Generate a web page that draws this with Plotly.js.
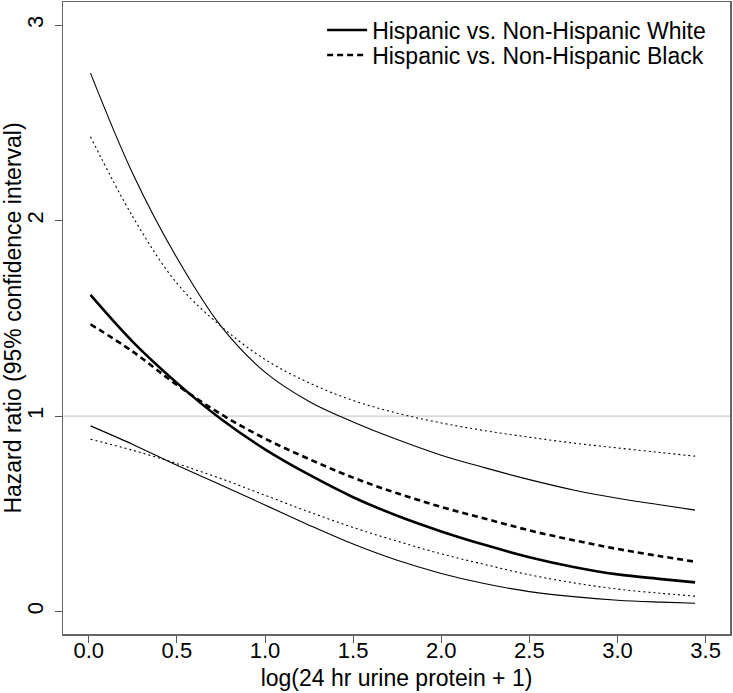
<!DOCTYPE html>
<html>
<head>
<meta charset="utf-8">
<script src="https://cdn.plot.ly/plotly-3.0.1.min.js"></script>
<style>
  html, body { margin: 0; padding: 0; background: #ffffff; }
  #chart { width: 733px; height: 693px; }
</style>
</head>
<body>
<div id="chart"></div>
<script>
// x: log(24 hr urine protein + 1)
const xVals = [0.01, 0.25, 0.5, 0.75, 1.0, 1.25, 1.5, 1.75, 2.0, 2.25, 2.5, 2.75, 3.0, 3.25, 3.44];

// Hispanic vs. Non-Hispanic White
const whiteHR    = [1.62, 1.38, 1.17, 0.985, 0.83, 0.70, 0.585, 0.49, 0.41, 0.34, 0.278, 0.228, 0.19, 0.166, 0.149];
const whiteLower = [0.95, 0.855, 0.748, 0.648, 0.545, 0.442, 0.345, 0.262, 0.195, 0.142, 0.102, 0.076, 0.058, 0.048, 0.042];
const whiteUpper = [2.755, 2.24, 1.81, 1.46, 1.225, 1.075, 0.97, 0.88, 0.80, 0.735, 0.675, 0.622, 0.58, 0.545, 0.519];

// Hispanic vs. Non-Hispanic Black
const blackHR    = [1.47, 1.33, 1.16, 1.01, 0.885, 0.78, 0.685, 0.605, 0.535, 0.475, 0.415, 0.365, 0.32, 0.282, 0.255];
const blackLower = [0.882, 0.825, 0.757, 0.68, 0.595, 0.51, 0.43, 0.36, 0.295, 0.24, 0.188, 0.147, 0.115, 0.093, 0.079];
const blackUpper = [2.43, 2.02, 1.68, 1.46, 1.29, 1.17, 1.08, 1.015, 0.965, 0.925, 0.892, 0.862, 0.837, 0.813, 0.795];

const seriesNames = ["Hispanic vs. Non-Hispanic White", "Hispanic vs. Non-Hispanic Black"];
const xTicks = [0, 0.5, 1, 1.5, 2, 2.5, 3, 3.5];
const xTickText = ["0.0", "0.5", "1.0", "1.5", "2.0", "2.5", "3.0", "3.5"];
const yTicks = [0, 1, 2, 3];
const yTickText = ["0", "1", "2", "3"];
const refLine = 1;

const FONT = "Liberation Sans, Arial, Helvetica, sans-serif";

function tr(y, name, width, dash, show, legendId) {
  const t = {
    x: xVals, y: y, type: "scatter", mode: "lines", name: name,
    showlegend: show, hoverinfo: "skip",
    line: { color: "#000000", width: width, dash: dash, shape: "spline", smoothing: 1 }
  };
  if (legendId) t.legend = legendId;
  return t;
}

const data = [
  tr(whiteUpper, "white upper", 1.1, "solid", false),
  tr(whiteLower, "white lower", 1.1, "solid", false),
  tr(blackUpper, "black upper", 1.1, "2px,3px", false),
  tr(blackLower, "black lower", 1.1, "2px,3px", false),
  tr(whiteHR, seriesNames[0], 2.6, "solid", true, "legend"),
  tr(blackHR, seriesNames[1], 2.6, "6px,4px", true, "legend2")
];

function legendBox(yMid) {
  return {
    x: 0.3885, y: yMid, xanchor: "left", yanchor: "middle",
    bgcolor: "rgba(255,255,255,0)", borderwidth: 0,
    font: { family: FONT, size: 23, color: "#000000" },
    itemwidth: 40
  };
}

const layout = {
  width: 733, height: 693,
  margin: { l: 63, r: 3, t: 2, b: 59 },
  paper_bgcolor: "#ffffff", plot_bgcolor: "#ffffff",
  font: { family: FONT, size: 22, color: "#000000" },
  showlegend: true,
  legend: legendBox(0.9557),
  legend2: legendBox(0.9161),
  xaxis: {
    range: [-0.146, 3.638],
    tickvals: xTicks, ticktext: xTickText,
    ticks: "outside", ticklen: 7, tickwidth: 1, tickcolor: "#555555",
    ticklabelstandoff: -11,
    showgrid: false, zeroline: false,
    showline: true, mirror: true, linecolor: "#666666", linewidth: 1.5,
    tickfont: { family: FONT, size: 22, color: "#000000" },
    title: { text: "log(24 hr urine protein + 1)", font: { family: FONT, size: 23, color: "#000000" }, standoff: 8 }
  },
  yaxis: {
    range: [-0.115, 3.119],
    tickvals: yTicks, ticktext: yTickText, tickangle: -90,
    ticks: "outside", ticklen: 7, tickwidth: 1, tickcolor: "#555555",
    ticklabelstandoff: 3,
    showgrid: false, zeroline: false,
    showline: true, mirror: true, linecolor: "#666666", linewidth: 1.5,
    tickfont: { family: FONT, size: 22, color: "#000000" },
    title: { text: "Hazard ratio (95% confidence interval)", font: { family: FONT, size: 23, color: "#000000" }, standoff: 6 }
  },
  shapes: [{
    type: "line", xref: "paper", x0: 0, x1: 1, yref: "y", y0: refLine, y1: refLine,
    line: { color: "#cccccc", width: 1.2 }, layer: "below"
  }]
};

Plotly.newPlot("chart", data, layout, { displayModeBar: false, staticPlot: true });
</script>
</body>
</html>
